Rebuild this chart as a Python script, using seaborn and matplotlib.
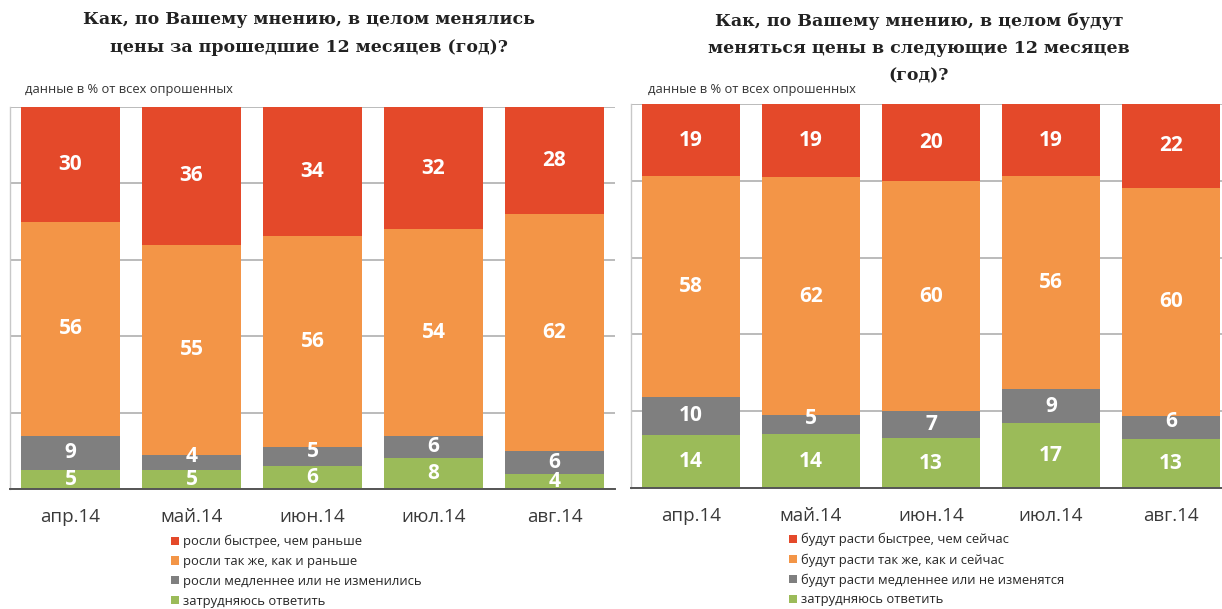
import numpy as np
import pandas as pd
import matplotlib
matplotlib.use("Agg")
import matplotlib.pyplot as plt
from matplotlib.patches import Patch
import seaborn as sns

# ---------------- data ----------------
months = ["апр.14", "май.14", "июн.14", "июл.14", "авг.14"]

left_title = "Как, по Вашему мнению, в целом менялись\nцены за прошедшие 12 месяцев (год)?"
right_title = "Как, по Вашему мнению, в целом будут\nменяться цены в следующие 12 месяцев\n(год)?"
subtitle = "данные в % от всех опрошенных"

left_labels = ["росли быстрее, чем раньше",
               "росли так же, как и раньше",
               "росли медленнее или не изменились",
               "затрудняюсь ответить"]
left_faster = [30, 36, 34, 32, 28]
left_same = [56, 55, 56, 54, 62]
left_slower = [9, 4, 5, 6, 6]
left_unsure = [5, 5, 6, 8, 4]

right_labels = ["будут расти быстрее, чем сейчас",
                "будут расти так же, как и сейчас",
                "будут расти медленнее или не изменятся",
                "затрудняюсь ответить"]
right_faster = [19, 19, 20, 19, 22]
right_same = [58, 62, 60, 56, 60]
right_slower = [10, 5, 7, 9, 6]
right_unsure = [14, 14, 13, 17, 13]

colors = ["#E4492A", "#F39547", "#7F7F7F", "#9BBB59"]

# ---------------- style ----------------
sns.set_theme(style="white")
FONT = ["Open Sans", "DejaVu Sans"]
plt.rcParams["font.family"] = FONT

W, H = 1222, 609
fig = plt.figure(figsize=(W / 100, H / 100), dpi=100)


def fx(px):
    return px / W


def fy(py):
    return 1 - py / H


def draw_panel(ax, series):
    # series ordered top->bottom: faster, same, slower, unsure
    arr = np.array(series, dtype=float)
    pct = arr / arr.sum(axis=0) * 100.0  # 100% stacked
    order = [3, 2, 1, 0]  # stacking bottom -> top
    cum = np.zeros(len(months))
    bottoms, tops = {}, {}
    for i in order:
        bottoms[i] = cum.copy()
        cum = cum + pct[i]
        tops[i] = cum.copy()
    # draw cumulative heights, tallest first, so they overlap into stacks
    for i in [0, 1, 2, 3]:
        df = pd.DataFrame({"month": months, "value": tops[i]})
        sns.barplot(data=df, x="month", y="value", color=colors[i],
                    saturation=1, width=0.81, linewidth=0, ax=ax,
                    order=months)
    # value labels
    for i in range(4):
        for j in range(len(months)):
            h = tops[i][j] - bottoms[i][j]
            yc = (bottoms[i][j] + tops[i][j]) / 2
            if h < 6 and i == 2:
                yc += 1.5
            ax.text(j, yc, f"{int(series[i][j])}", ha="center", va="center",
                    color="white", fontsize=15, fontweight="bold",
                    family=FONT)
    ax.set_ylim(0, 100)
    ax.set_xlim(-0.5, len(months) - 0.5)
    ax.set_yticks([0, 20, 40, 60, 80, 100])
    ax.set_yticklabels([])
    ax.tick_params(axis="y", length=0)
    ax.tick_params(axis="x", length=0, labelsize=13.5, colors="#3A3A3A", pad=14)
    ax.yaxis.grid(True, color="#B5B5B5", linewidth=1.3)
    ax.set_axisbelow(True)
    for s in ["top", "right"]:
        ax.spines[s].set_visible(False)
    ax.spines["left"].set_color("#C8C8C8")
    ax.spines["left"].set_linewidth(1.0)
    ax.spines["bottom"].set_color("#555555")
    ax.spines["bottom"].set_linewidth(1.4)
    ax.set_xlabel("")
    ax.set_ylabel("")


# left panel
axL = fig.add_axes([fx(10), fy(489), fx(605), fy(107) - fy(489)])
draw_panel(axL, [left_faster, left_same, left_slower, left_unsure])

# right panel (clipped at figure edge like the reference)
axR = fig.add_axes([fx(631), fy(488), fx(600), fy(104) - fy(488)])
draw_panel(axR, [right_faster, right_same, right_slower, right_unsure])

# titles
fig.text(fx(309), fy(11), left_title, ha="center", va="top", fontsize=12.5,
         fontweight="bold", family=["DejaVu Serif"], color="#222222",
         linespacing=1.85)
fig.text(fx(919), fy(13), right_title, ha="center", va="top", fontsize=12.5,
         fontweight="bold", family=["DejaVu Serif"], color="#222222",
         linespacing=1.75)

# subtitles
fig.text(fx(25), fy(90), subtitle, ha="left", va="center", fontsize=9.3,
         color="#333333", family=FONT)
fig.text(fx(648), fy(90), subtitle, ha="left", va="center", fontsize=9.3,
         color="#333333", family=FONT)


# legends
def add_legend(labels, x_px, y_px):
    handles = [Patch(facecolor=c, edgecolor="none") for c in colors]
    fig.legend(handles, labels, loc="upper left",
               bbox_to_anchor=(fx(x_px), fy(y_px)), frameon=False,
               handlelength=0.6, handleheight=0.6,
               handletextpad=0.3, labelspacing=0.52, borderpad=0,
               borderaxespad=0, prop={"family": FONT, "size": 9.4})


add_legend(left_labels, 171, 535)
add_legend(right_labels, 789, 533)

fig.savefig("out.png", dpi=100)
